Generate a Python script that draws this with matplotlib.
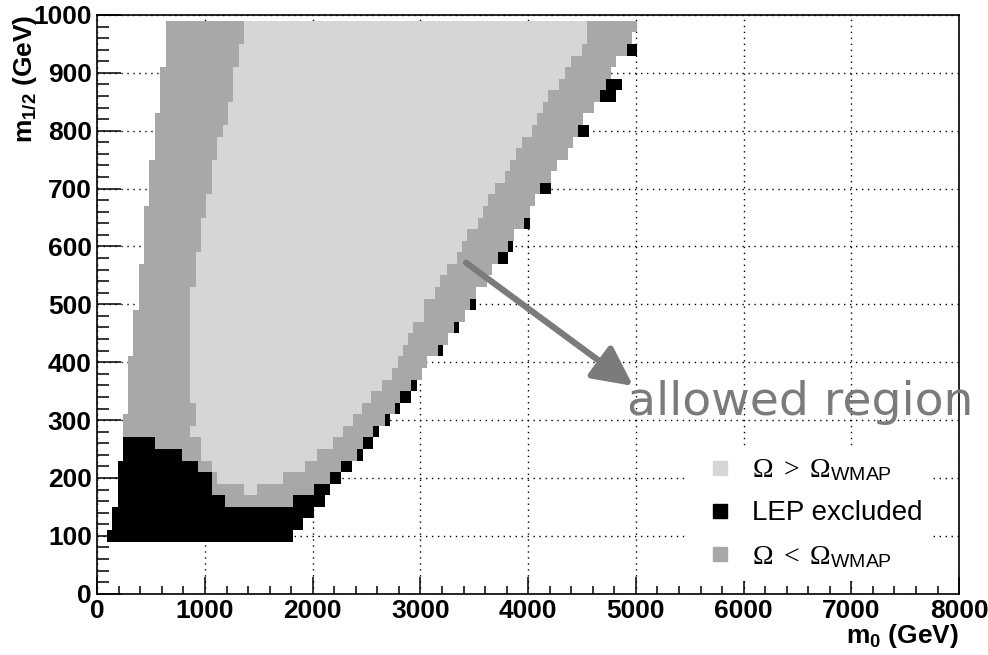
import numpy as np
import matplotlib
matplotlib.use('Agg')
import matplotlib.pyplot as plt
from matplotlib.lines import Line2D
from matplotlib.ticker import MultipleLocator

plt.rcParams['font.family'] = ['Liberation Sans', 'DejaVu Sans']
plt.rcParams['mathtext.fontset'] = 'custom'
plt.rcParams['mathtext.rm'] = 'Liberation Serif'
plt.rcParams['mathtext.bf'] = 'Liberation Sans:bold'
plt.rcParams['mathtext.it'] = 'Liberation Serif:italic'
plt.rcParams['mathtext.sf'] = 'Liberation Sans'

# ---------------- data (GeV) ----------------
# centre of each m1/2 row of the scan (row height 20 GeV)
m12_rows = [100, 120, 140, 160, 180, 200, 220, 240, 260, 280,
            300, 320, 340, 360, 380, 400, 420, 440, 460, 480,
            500, 520, 540, 560, 580, 600, 620, 640, 660, 680,
            700, 720, 740, 760, 780, 800, 820, 840, 860, 880,
            900, 920, 940, 960, 980]
# first and last m0 of the scanned (coloured) region in each row
data_lo = [87, 139, 139, 189, 189, 189, 189, 239, 239, 236,
           236, 285, 285, 285, 285, 285, 334, 334, 334, 334,
           387, 387, 387, 387, 434, 434, 434, 434, 434, 483,
           483, 483, 483, 536, 536, 536, 536, 585, 585, 585,
           585, 637, 637, 637, 637]
data_hi = [1820, 1913, 2012, 2114, 2161, 2263, 2362, 2464, 2563, 2616,
           2718, 2811, 2913, 2966, 3015, 3063, 3213, 3259, 3361, 3414,
           3513, 3513, 3615, 3668, 3816, 3862, 3872, 4017, 4017, 4064,
           4213, 4213, 4265, 4368, 4414, 4565, 4513, 4615, 4816, 4869,
           4770, 4816, 5014, 4962, 5008]
nan = float('nan')
# Omega > Omega_WMAP region in each row
over_lo = [nan, nan, nan, nan, 1362, 1110, 1062, 963, 963, 864,
           916, 916, 864, 864, 864, 864, 864, 864, 864, 864,
           864, 864, 916, 916, 916, 963, 963, 963, 1012, 1012,
           1062, 1062, 1062, 1114, 1114, 1164, 1214, 1214, 1263, 1263,
           1263, 1313, 1313, 1362, 1362]
over_hi = [nan, nan, nan, nan, 1486, 1727, 1929, 2037, 2191, 2284,
           2377, 2460, 2545, 2641, 2733, 2789, 2836, 2888, 2934, 3036,
           3036, 3136, 3182, 3244, 3337, 3383, 3436, 3538, 3584, 3631,
           3693, 3785, 3832, 3888, 3940, 4033, 4080, 4141, 4188, 4287,
           4343, 4395, 4497, 4544, 4544]
# LEP excluded: low-m1/2 block (from data_lo to lep_hi) ...
lep_hi = [1820, 1913, 2012, 1186, 1065, 1065, 938, 789, 536, nan,
          nan, nan, nan, nan, nan, nan, nan, nan, nan, nan,
          nan, nan, nan, nan, nan, nan, nan, nan, nan, nan,
          nan, nan, nan, nan, nan, nan, nan, nan, nan, nan,
          nan, nan, nan, nan, nan]
# ... and points along the high-m0 edge (from lep_edge_lo to data_hi)
lep_edge_lo = [nan, nan, nan, 1814, 2012, 2161, 2263, 2414, 2464, 2563,
               2667, 2764, 2811, 2913, nan, nan, 3166, nan, 3312, nan,
               3460, nan, nan, nan, 3718, 3816, nan, 3962, nan, nan,
               4110, nan, nan, nan, nan, 4466, nan, nan, 4668, 4720,
               nan, nan, 4915, nan, nan]

legend_labels = [r'$\Omega\ >\ \Omega_{\mathsf{WMAP}}$', 'LEP excluded',
                 r'$\Omega\ <\ \Omega_{\mathsf{WMAP}}$']
x_ticks = [0, 1000, 2000, 3000, 4000, 5000, 6000, 7000, 8000]
y_ticks = [0, 100, 200, 300, 400, 500, 600, 700, 800, 900, 1000]
arrow_from = (3423, 572)
arrow_to = (4974, 359)

# ---------------- style ----------------
LIGHT = '#d6d6d6'
DARK = '#a8a8a8'
BLACK = '#000000'
NOTE = '#7b7b7b'
ROW_H = 20

fig = plt.figure(figsize=(9.88, 6.55), dpi=100)
ax = fig.add_axes([0.0985, 0.0936, 0.8722, 0.8835])

y = np.array(m12_rows, float)
lo = np.array(data_lo, float)
hi = np.array(data_hi, float)
olo = np.array(over_lo, float)
ohi = np.array(over_hi, float)
lhi = np.array(lep_hi, float)
elo = np.array(lep_edge_lo, float)

kw = dict(height=ROW_H, linewidth=0, antialiased=False, zorder=2)
ax.barh(y, hi - lo, left=lo, color=DARK, **kw)
m = ~np.isnan(olo)
ax.barh(y[m], (ohi - olo)[m], left=olo[m], color=LIGHT, **kw)
m = ~np.isnan(lhi)
ax.barh(y[m], (lhi - lo)[m], left=lo[m], color=BLACK, **kw)
m = ~np.isnan(elo)
ax.barh(y[m], (hi - elo)[m], left=elo[m], color=BLACK, **kw)

ax.set_xlim(0, 8000)
ax.set_ylim(0, 1000)
ax.set_xticks(x_ticks)
ax.set_yticks(y_ticks)
ax.xaxis.set_minor_locator(MultipleLocator(200))
ax.yaxis.set_minor_locator(MultipleLocator(20))
ax.tick_params(axis='x', which='major', direction='in', length=12, width=1.1,
               labelsize=19, pad=4)
ax.tick_params(axis='x', which='minor', direction='in', length=6, width=1.1)
ax.tick_params(axis='y', which='major', direction='in', length=17, width=1.1,
               labelsize=19, pad=4)
ax.tick_params(axis='y', which='minor', direction='in', length=8.5, width=1.1)
for t in ax.get_xticklabels() + ax.get_yticklabels():
    t.set_fontweight('bold')
for s in ax.spines.values():
    s.set_linewidth(1.2)
    s.set_zorder(4)
ax.set_axisbelow('line')
ax.grid(True, which='major', color='black', linewidth=1.0,
        linestyle=(0, (1, 3.3)))

ax.set_xlabel(r'$\mathbf{m_{0}}$ (GeV)', loc='right', fontsize=19,
              fontweight='bold', labelpad=-1)
ax.set_ylabel(r'$\mathbf{m_{1/2}}$ (GeV)', loc='top', fontsize=19,
              fontweight='bold', labelpad=-4)

handles = [Line2D([], [], marker='s', ms=10, ls='none', color=c, mec=c)
           for c in (LIGHT, BLACK, DARK)]
leg = ax.legend(handles, legend_labels, loc='upper left',
                bbox_to_anchor=(0.684, 0.255), fontsize=20,
                frameon=True, facecolor='white', edgecolor='none',
                framealpha=1, fancybox=False, borderpad=0.4,
                borderaxespad=0, handlelength=1.58, handletextpad=0.36,
                labelspacing=0.62)
leg.set_zorder(6)

ax.annotate('', xy=arrow_to, xytext=arrow_from,
            arrowprops=dict(arrowstyle='-|>,head_length=1.2,head_width=0.6',
                            color=NOTE, lw=4.5, mutation_scale=20,
                            shrinkA=0, shrinkB=0),
            zorder=5)
ax.text(4918, 309, 'allowed region', color=NOTE, fontsize=34,
        family='DejaVu Sans', ha='left', va='baseline', clip_on=False,
        zorder=5)

fig.savefig('out.png', dpi=100)
